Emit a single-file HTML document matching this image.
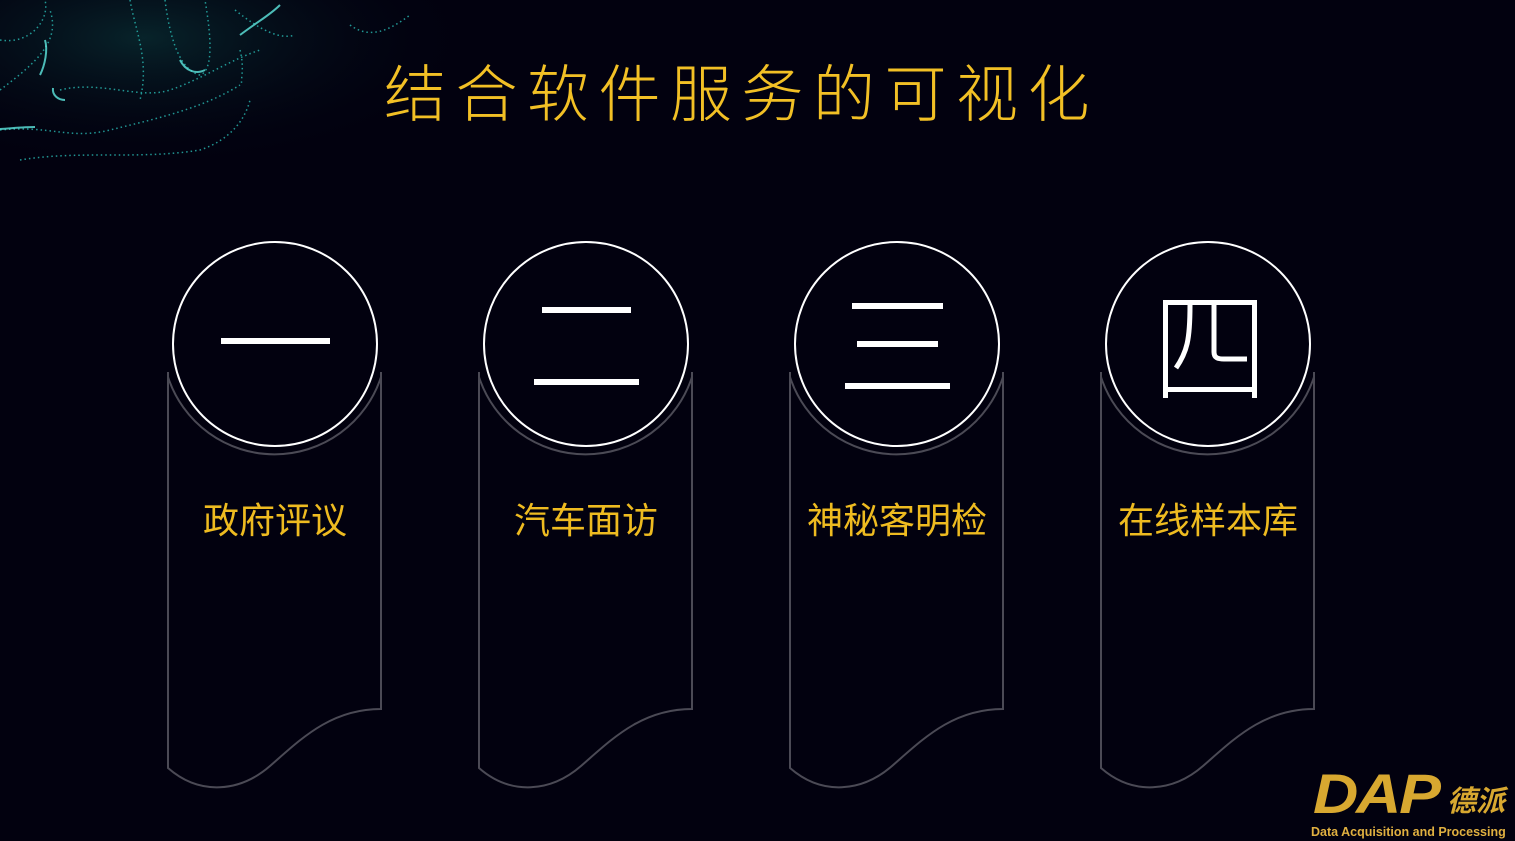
<!DOCTYPE html>
<html><head><meta charset="utf-8"><style>
html,body{margin:0;padding:0;background:#02010f;}
body{width:1515px;height:841px;position:relative;overflow:hidden;font-family:"Liberation Sans","Noto Sans CJK SC",sans-serif;}
.title{position:absolute;left:384px;top:44px;font-size:62px;letter-spacing:9.5px;color:#f2c025;white-space:nowrap;font-weight:300;}
.lab{position:absolute;top:492px;width:240px;text-align:center;font-size:36px;color:#eebb20;}
</style></head><body>
<svg width="1515" height="841" style="position:absolute;left:0;top:0">
<defs>
<radialGradient id="g" cx="0.3" cy="0.2" r="0.7">
<stop offset="0" stop-color="#0b3a3c" stop-opacity="0.6"/>
<stop offset="1" stop-color="#02010f" stop-opacity="0"/>
</radialGradient>
</defs>
<rect x="0" y="0" width="480" height="190" fill="url(#g)"/>
<g fill="none" stroke="#2cc8c0" stroke-width="1.5" stroke-dasharray="1.5 3" opacity="0.75">
<path d="M0,90 C40,60 60,40 50,10"/>
<path d="M0,130 C50,125 70,140 110,130 C150,120 200,110 240,85"/>
<path d="M165,0 C170,40 180,70 200,75 C215,70 210,30 205,0"/>
<path d="M60,90 C100,80 140,100 170,90 C200,80 230,60 260,50"/>
<path d="M235,10 C260,30 280,40 295,35"/>
<path d="M240,50 C245,70 240,80 242,85"/>
<path d="M20,160 C80,150 140,160 200,150 C230,140 245,120 250,100"/>
<path d="M130,0 C135,30 150,60 140,100"/>
<path d="M350,25 C370,40 390,30 410,15"/>
<path d="M0,40 C30,45 50,20 45,0"/>
</g>
<g fill="none" stroke="#5fe8e0" stroke-width="2" opacity="0.8">
<path d="M0,129 C15,128 25,127 35,127"/>
<path d="M40,75 C45,65 48,50 45,40"/>
<path d="M180,60 C185,70 195,75 205,70"/>
<path d="M240,35 C260,20 270,15 280,5"/>
<path d="M53,88 C52,95 58,100 65,100"/>
</g>
<g fill="none" stroke="#4b4a55" stroke-width="2">
<g id="c">
<path d="M381,372 L381,709 C330,709 300,740 270,766 C240,792 200,796 168,768 L168,372"/>
<path d="M168,377 A112,112 0 0 0 381,377"/>
</g>
<use href="#c" x="311"/>
<use href="#c" x="622"/>
<use href="#c" x="933"/>
</g>
<g fill="none" stroke="#ffffff" stroke-width="2">
<circle cx="275" cy="344" r="102"/>
<circle cx="586" cy="344" r="102"/>
<circle cx="897" cy="344" r="102"/>
<circle cx="1208" cy="344" r="102"/>
</g>
<g fill="#ffffff">
<rect x="221" y="338" width="109" height="6"/>
<rect x="542" y="307" width="89" height="6"/>
<rect x="534" y="379" width="105" height="6"/>
<rect x="852" y="303" width="91" height="6"/>
<rect x="857" y="341" width="81" height="6"/>
<rect x="845" y="383" width="105" height="6"/>
</g>
<g fill="none" stroke="#ffffff" stroke-width="5">
<path d="M1165.5,398 L1165.5,302.5 L1254.5,302.5 L1254.5,398"/>
<path d="M1165,389.5 L1255,389.5"/>
<path d="M1190,305 C1190,340 1187,352 1176,368"/>
<path d="M1214,305 L1214,352 C1214,358 1218,359 1224,359 L1247,359"/>
</g>
</svg>
<div class="title">结合软件服务的可视化</div>
<div class="lab" style="left:155px">政府评议</div>
<div class="lab" style="left:466px">汽车面访</div>
<div class="lab" style="left:777px">神秘客明检</div>
<div class="lab" style="left:1088px">在线样本库</div>
<div style="position:absolute;left:1313px;top:764px;font-size:56px;font-weight:bold;font-style:italic;color:#d8a830;letter-spacing:-2px;line-height:60px;white-space:nowrap;transform:scaleX(1.12);transform-origin:0 0">DAP</div>
<div style="position:absolute;left:1447px;top:784px;font-size:29px;font-weight:bold;font-style:italic;color:#d8a830;line-height:36px;white-space:nowrap">德派</div>
<div style="position:absolute;left:1311px;top:825px;font-size:12.5px;font-weight:bold;color:#e0b040;white-space:nowrap">Data Acquisition and Processing</div>
</body></html>
